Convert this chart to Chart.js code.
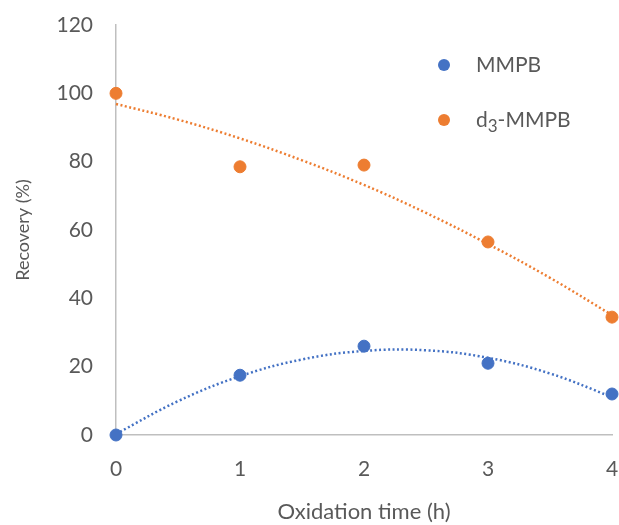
<!DOCTYPE html>
<html>
<head>
<meta charset="utf-8">
<script src="https://cdn.jsdelivr.net/npm/chart.js@4/dist/chart.umd.min.js"></script>
<style>
  html, body { margin: 0; padding: 0; background: #fff; }
  #wrap { width: 619px; height: 525px; position: relative; }
</style>
</head>
<body>
<div id="wrap"><canvas id="chart"></canvas></div>
<script>
// measured values (recovery %, by oxidation time in h)
const hours = [0, 1, 2, 3, 4];
const mmpb = [0, 17.5, 26, 21, 12];
const d3mmpb = [100, 78.5, 79, 56.5, 34.5];

// dotted trendlines
const trendHours = [0, 0.5, 1, 1.5, 2, 2.5, 3, 3.5, 4];
const mmpbTrend = [0.3, 9.9, 17.2, 22.1, 24.6, 24.8, 22.6, 18.0, 11.1];
const d3Trend = [96.9, 92.3, 86.8, 80.4, 73.2, 65.0, 55.9, 46.0, 35.1];

const xTicks = [0, 1, 2, 3, 4];
const yTicks = [0, 20, 40, 60, 80, 100, 120];

const blue = '#4472C4';
const orange = '#ED7D31';
const grey = '#595959';
const fontFam = 'Lato, "Open Sans", sans-serif';

function pts(xs, ys) {
    return xs.map((x, i) => ({x: x, y: ys[i]}));
}

// legend drawn inside the plot, with a real subscript
const insideLegend = {
    id: 'insideLegend',
    afterDraw(chart) {
        const ctx = chart.ctx;
        ctx.save();
        ctx.textBaseline = 'middle';

        ctx.beginPath();
        ctx.fillStyle = blue;
        ctx.arc(444, 65, 6, 0, Math.PI * 2);
        ctx.fill();
        ctx.beginPath();
        ctx.fillStyle = orange;
        ctx.arc(444, 120, 6, 0, Math.PI * 2);
        ctx.fill();

        ctx.fillStyle = grey;
        ctx.font = '21px ' + fontFam;
        ctx.fillText('MMPB', 476, 65);
        ctx.fillText('d', 476, 120);
        let w = ctx.measureText('d').width;
        ctx.font = '17px ' + fontFam;
        ctx.fillText('3', 476 + w, 127);
        w += ctx.measureText('3').width;
        ctx.font = '21px ' + fontFam;
        ctx.fillText('-MMPB', 476 + w, 120);
        ctx.restore();
    }
};

new Chart('chart', {
    type: 'scatter',
    data: {
        datasets: [{
            label: 'MMPB',
            data: pts(hours, mmpb),
            backgroundColor: blue,
            borderColor: blue,
            pointRadius: 6,
            pointHoverRadius: 6,
            clip: false,
            order: 1
        }, {
            label: 'd3-MMPB',
            data: pts(hours, d3mmpb),
            backgroundColor: orange,
            borderColor: orange,
            pointRadius: 6,
            pointHoverRadius: 6,
            clip: false,
            order: 1
        }, {
            type: 'line',
            label: 'MMPB trend',
            data: pts(trendHours, mmpbTrend),
            borderColor: blue,
            borderWidth: 2.5,
            borderDash: [2, 2.5],
            pointRadius: 0,
            tension: 0.4,
            fill: false,
            clip: false,
            order: 2
        }, {
            type: 'line',
            label: 'd3 trend',
            data: pts(trendHours, d3Trend),
            borderColor: orange,
            borderWidth: 2.5,
            borderDash: [2, 2.5],
            pointRadius: 0,
            tension: 0.4,
            fill: false,
            clip: false,
            order: 2
        }]
    },
    options: {
        responsive: true,
        maintainAspectRatio: false,
        animation: false,
        layout: {padding: {top: 25, right: 7, left: 0, bottom: 0}},
        plugins: {
            legend: {display: false},
            tooltip: {enabled: false}
        },
        scales: {
            x: {
                type: 'linear',
                min: 0,
                max: 4,
                afterBuildTicks: s => { s.ticks = xTicks.map(v => ({value: v})); },
                afterFit: s => {
                    s.height = 90;
                    s.paddingLeft = 0;
                    s.paddingRight = 0;
                },
                grid: {display: false, drawTicks: false},
                border: {display: true, color: '#BFBFBF', width: 1.5},
                ticks: {color: grey, padding: 22, font: {family: fontFam, size: 21}},
                title: {
                    display: true,
                    text: 'Oxidation time (h)',
                    color: grey,
                    font: {family: fontFam, size: 22},
                    padding: {top: 0, bottom: 0}
                }
            },
            y: {
                min: 0,
                max: 120,
                afterBuildTicks: s => { s.ticks = yTicks.map(v => ({value: v})); },
                afterFit: s => {
                    s.width = 116;
                    s.paddingTop = 0;
                    s.paddingBottom = 0;
                },
                grid: {display: false, drawTicks: false},
                border: {display: true, color: '#BFBFBF', width: 1.5},
                ticks: {color: grey, padding: 23, font: {family: fontFam, size: 21}},
                title: {
                    display: true,
                    text: 'Recovery (%)',
                    color: grey,
                    font: {family: fontFam, size: 18},
                    padding: {top: 12, bottom: 0}
                }
            }
        }
    },
    plugins: [insideLegend]
});
</script>
</body>
</html>
